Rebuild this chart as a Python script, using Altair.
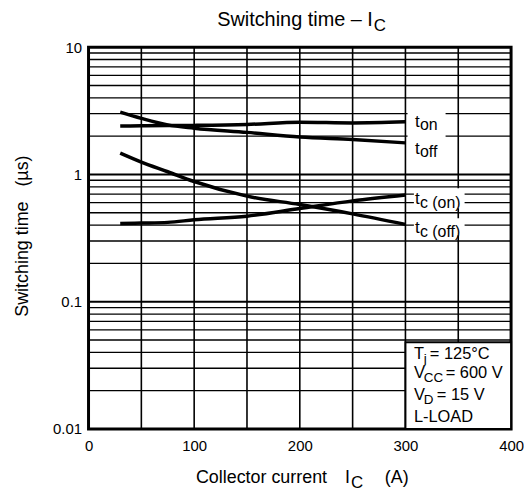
import altair as alt
import pandas as pd

FONT = "Liberation Sans"
NB = "\u00a0"

# ---- data ----
I_C = [30, 50, 75, 100, 150, 200, 250, 300]
T_ON = [2.40, 2.41, 2.42, 2.43, 2.47, 2.57, 2.54, 2.59]
T_OFF = [3.09, 2.76, 2.45, 2.31, 2.14, 1.97, 1.88, 1.77]
TC_ON = [0.412, 0.415, 0.42, 0.44, 0.47, 0.54, 0.62, 0.69]
TC_OFF = [1.47, 1.25, 1.05, 0.88, 0.675, 0.58, 0.49, 0.405]
SERIES = ["ton", "toff", "tc_on", "tc_off"]

X_TICKS = [0, 100, 200, 300, 400]
X_GRID = [50, 100, 150, 200, 250, 300, 350]
Y_TICKS = [0.01, 0.1, 1, 10]
Y_GRID_MINOR = [0.02, 0.03, 0.04, 0.05, 0.06, 0.07, 0.08, 0.09,
                0.2, 0.3, 0.4, 0.5, 0.6, 0.7, 0.8, 0.9,
                2, 3, 4, 5, 6, 7, 8, 9]
Y_GRID_MAJOR = [0.1, 1]

# curve labels
LABEL_X = [309, 309, 309, 309]
LABEL_Y = [2.37, 1.46, 0.583, 0.346]
LABEL_MAIN = ["t", "t", "t", "t"]
LABEL_SUB = ["on", "off", "c" + NB + "(on)", "c" + NB + "(off)"]
# white label backgrounds
BOX_X = [302, 308, 308]
BOX_X2 = [338, 356, 356]
BOX_Y = [1.285, 0.542, 0.333]
BOX_Y2 = [3.40, 0.778, 0.453]

# condition box
COND_BOX = {"x": [300], "x2": [400], "y": [0.01], "y2": [0.048]}
COND_X = [308, 308, 308, 308]
COND_Y = [0.0352, 0.0250, 0.01686, 0.01135]
COND_MAIN = ["T", "V", "V", "L-LOAD"]
COND_SUB = ["j", "CC", "D", ""]
COND_REST = ["= 125°C", "= 600 V", "= 15 V", ""]
COND_SUB_DX = [10, 10, 10, 0]
COND_REST_DX = [16, 32, 23, 0]

# ---- scales / axes ----
xs = alt.Scale(domain=[0, 400], nice=False, zero=False)
ys = alt.Scale(type="log", domain=[0.01, 10], nice=False)
xax = alt.Axis(values=X_TICKS, title=None, grid=False, domain=False, ticks=False,
               labelFontSize=15, labelFont=FONT, labelColor="black",
               labelPadding=10, labelFlush=False, labelOverlap=False)
yax = alt.Axis(values=Y_TICKS, title=None, grid=False, domain=False, ticks=False,
               labelFontSize=15, labelFont=FONT, labelColor="black",
               labelPadding=7, labelFlush=False, labelOverlap=False,
               labelExpr="datum.value >= 1 ? format(datum.value, 'd') : format(datum.value, '.2~f')")


def X(f="x"):
    return alt.X(f"{f}:Q", scale=xs, axis=xax)


def Y(f="y"):
    return alt.Y(f"{f}:Q", scale=ys, axis=yax)


layers = []

# grid
layers.append(alt.Chart(pd.DataFrame({"y": Y_GRID_MINOR})).mark_rule(color="black", strokeWidth=1.3)
              .encode(y=Y()))
layers.append(alt.Chart(pd.DataFrame({"y": Y_GRID_MAJOR})).mark_rule(color="black", strokeWidth=2)
              .encode(y=Y()))
layers.append(alt.Chart(pd.DataFrame({"x": X_GRID})).mark_rule(color="black", strokeWidth=1.6)
              .encode(x=X()))

# label backgrounds
layers.append(alt.Chart(pd.DataFrame({"x": BOX_X, "x2": BOX_X2, "y": BOX_Y, "y2": BOX_Y2}))
              .mark_rect(color="white").encode(x=X(), x2="x2:Q", y=Y(), y2="y2:Q"))
# condition box
layers.append(alt.Chart(pd.DataFrame(COND_BOX))
              .mark_rect(fill="white", stroke="black", strokeWidth=2)
              .encode(x=X(), x2="x2:Q", y=Y(), y2="y2:Q"))

# curves
rows = []
for name, vals in zip(SERIES, [T_ON, T_OFF, TC_ON, TC_OFF]):
    for xv, yv in zip(I_C, vals):
        rows.append({"x": xv, "y": yv, "s": name})
curves = pd.DataFrame(rows)
layers.append(alt.Chart(curves).mark_line(color="black", strokeWidth=3.5, interpolate="monotone")
              .encode(x=X(), y=Y(), detail="s:N"))

# curve labels
lab = pd.DataFrame({"x": LABEL_X, "y": LABEL_Y, "m": LABEL_MAIN, "s": LABEL_SUB})
layers.append(alt.Chart(lab).mark_text(font=FONT, fontSize=17, align="left", baseline="alphabetic", color="black")
              .encode(x=X(), y=Y(), text="m:N"))
layers.append(alt.Chart(lab).mark_text(font=FONT, fontSize=16, align="left", baseline="alphabetic",
                                       color="black", dx=5, dy=3.5)
              .encode(x=X(), y=Y(), text="s:N"))

# condition text
cond = pd.DataFrame({"x": COND_X, "y": COND_Y, "m": COND_MAIN, "s": COND_SUB, "r": COND_REST})
layers.append(alt.Chart(cond).mark_text(font=FONT, fontSize=16.5, align="left", baseline="alphabetic", color="black")
              .encode(x=X(), y=Y(), text="m:N"))
for i in range(3):
    one = cond.iloc[[i]]
    layers.append(alt.Chart(one).mark_text(font=FONT, fontSize=13.5, align="left", baseline="alphabetic",
                                           color="black", dx=COND_SUB_DX[i], dy=4)
                  .encode(x=X(), y=Y(), text="s:N"))
    layers.append(alt.Chart(one).mark_text(font=FONT, fontSize=16.5, align="left", baseline="alphabetic",
                                           color="black", dx=COND_REST_DX[i])
                  .encode(x=X(), y=Y(), text="r:N"))


# titles (outside the plot area)
def free_text(text, px, py, size, align="left", angle=0):
    return alt.Chart(pd.DataFrame({"t": [text]})).mark_text(
        font=FONT, fontSize=size, align=align, baseline="alphabetic", color="black", angle=angle
    ).encode(x=alt.value(px), y=alt.value(py), text="t:N")


layers.append(free_text("Switching time – I", 286, -21, 20, align="right"))
layers.append(free_text("C", 287, -16, 17))
layers.append(free_text("Collector current", 108, 438, 18))
layers.append(free_text("I", 258, 438, 18))
layers.append(free_text("C", 264, 443, 17))
layers.append(free_text("(A)", 298, 438, 18))
layers.append(free_text("Switching time" + NB * 3 + "(µs)", -61, 190, 18, align="center", angle=270))

chart = alt.layer(*layers).properties(
    width=425, height=384,
    autosize=alt.AutoSizeParams(type="none"),
    padding={"left": 81, "top": 38, "right": 13, "bottom": 62},
).configure_view(stroke="black", strokeWidth=3)

chart.save("out.html", embed_options={"renderer": "svg", "actions": False})
